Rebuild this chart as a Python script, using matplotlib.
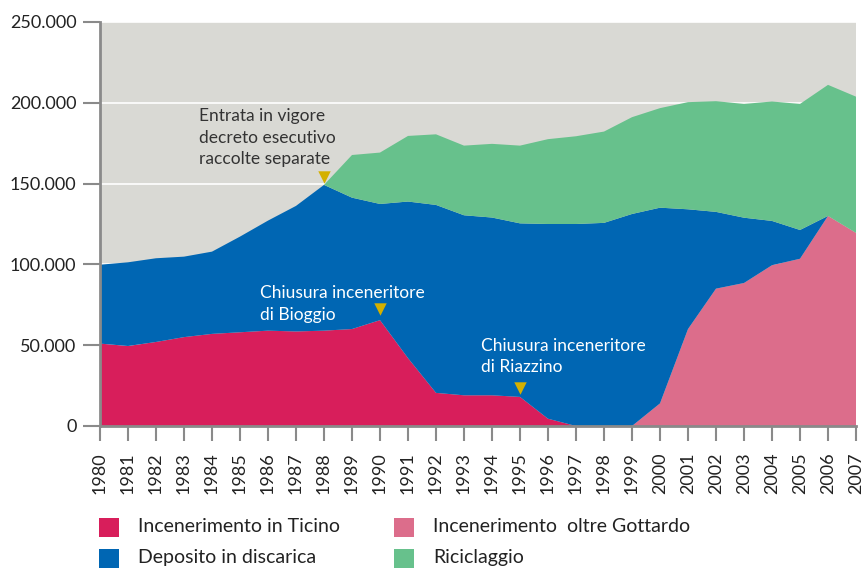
import matplotlib
matplotlib.use("Agg")

import numpy as np
import matplotlib.pyplot as plt
from matplotlib.patches import Rectangle

# ============ dati (tonnellate) ============
anni = list(range(1980, 2008))

incenerimento_ticino = [51000, 49500, 52000, 55000, 57000, 58000, 59000, 58500, 59000, 60000,
                        65500, 42000, 20500, 19000, 19000, 18000, 4500, 0, 0, 0,
                        0, 0, 0, 0, 0, 0, 0, 0]
incenerimento_oltre = [0, 0, 0, 0, 0, 0, 0, 0, 0, 0,
                       0, 0, 0, 0, 0, 0, 0, 0, 0, 0,
                       14000, 60000, 85000, 88500, 99500, 103500, 130000, 119500]
deposito_discarica = [48800, 51800, 51800, 49800, 50900, 59200, 68100, 77700, 90200, 81300,
                      71900, 96900, 116300, 111400, 110000, 107400, 120500, 125000, 125700, 131200,
                      121100, 74100, 47500, 40400, 27400, 17800, 0, 0]
riciclaggio = [0, 0, 0, 0, 0, 0, 0, 0, 0, 26400,
               31800, 40600, 43700, 43100, 45600, 48100, 52500, 54300, 56500, 59900,
               61600, 66300, 68500, 70400, 73900, 78000, 81100, 84300]

etichette = ["Incenerimento in Ticino", "Deposito in discarica",
             "Incenerimento  oltre Gottardo", "Riciclaggio"]

# annotazioni: (anno, valore del triangolo, testo)
note = [
    (1988, 154000, "Entrata in vigore\ndecreto esecutivo\nraccolte separate"),
    (1990, 72500, "Chiusura inceneritore\ndi Bioggio"),
    (1995, 23500, "Chiusura inceneritore\ndi Riazzino"),
]

# ============ stile ============
plt.rcParams["font.family"] = ["Lato", "DejaVu Sans"]

c_ticino = "#d81e5b"
c_oltre = "#dc6d8b"
c_discarica = "#0066b3"
c_ricicl = "#67c18c"
c_sfondo = "#d9d9d4"
c_giallo = "#d4b000"
c_asse = "#8a8a8a"
c_testo = "#222222"

W, H = 868, 572
fig = plt.figure(figsize=(W / 100, H / 100), dpi=100)
ax = fig.add_axes([100 / W, 146 / H, 756 / W, 404 / H])
ax.set_facecolor(c_sfondo)

# linee guida bianche sotto le aree
for v in range(50000, 250001, 50000):
    ax.axhline(v, color="white", linewidth=1.2, zorder=0)

x = np.array(anni)
ax.stackplot(x, incenerimento_ticino, incenerimento_oltre, deposito_discarica, riciclaggio,
             colors=[c_ticino, c_oltre, c_discarica, c_ricicl], linewidth=0, zorder=1)

ax.set_xlim(1980, 2007)
ax.set_ylim(0, 250000)

ax.set_xticks(anni)
ax.set_xticklabels([str(a) for a in anni], rotation=90, fontsize=13, color=c_testo)
ax.set_yticks(range(0, 250001, 50000))
ax.set_yticklabels(["0", "50.000", "100.000", "150.000", "200.000", "250.000"],
                   fontsize=13, color=c_testo)
ax.tick_params(axis="both", direction="out", color=c_asse, width=1.5)
ax.tick_params(axis="y", length=12, pad=5)
ax.tick_params(axis="x", length=11, pad=8)

for s in ["top", "right"]:
    ax.spines[s].set_visible(False)
for s in ["left", "bottom"]:
    ax.spines[s].set_color(c_asse)
    ax.spines[s].set_linewidth(2)

# triangoli e testi
ax.scatter([n[0] for n in note], [n[1] for n in note], marker="v", s=80,
           color=c_giallo, linewidths=0, zorder=5, clip_on=False)
ax.text(1983.55, 178500, note[0][2], fontsize=12.5, color="#333333",
        va="center", ha="left", linespacing=1.4, zorder=6)
ax.text(1985.7, 75500, note[1][2], fontsize=12.5, color="white",
        va="center", ha="left", linespacing=1.4, zorder=6)
ax.text(1993.6, 43000, note[2][2], fontsize=12.5, color="white",
        va="center", ha="left", linespacing=1.4, zorder=6)

# legenda (disegnata a mano, in pixel della figura)
voci = [(99, 527, c_ticino, etichette[0]),
        (99, 558, c_discarica, etichette[1]),
        (394, 527, c_oltre, etichette[2]),
        (394, 558, c_ricicl, etichette[3])]
for px, py, col, txt in voci:
    fig.patches.append(Rectangle((px / W, 1 - (py + 10) / H), 20 / W, 19 / H,
                                 transform=fig.transFigure, facecolor=col, edgecolor="none"))
    fig.text((px + 39) / W, 1 - py / H, txt, fontsize=14, color=c_testo,
             va="center", ha="left")

plt.savefig("out.png", dpi=100)
